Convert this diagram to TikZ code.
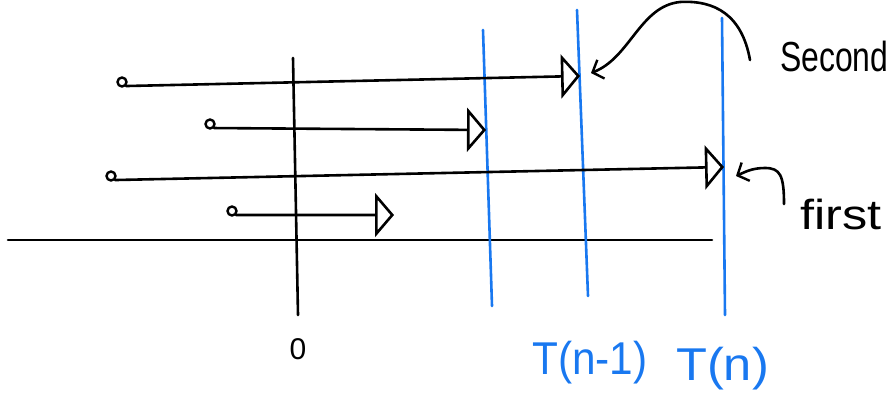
\documentclass[tikz,border=0pt]{standalone}
\usepackage{fontspec}
\setmainfont{Liberation Sans}
\usetikzlibrary{arrows.meta}
\definecolor{penblue}{RGB}{25,120,240}
\tikzset{
  pen/.style={line width=2.6pt, line cap=round, line join=round, black},
  bluepen/.style={line width=2.6pt, line cap=round, penblue},
  ray/.style={pen, -{Triangle[open, length=19pt, width=44pt, line width=2.6pt]}},
  start/.style={circle, draw, line width=2.4pt, inner sep=0pt, minimum size=9pt},
  note/.style={font=\fontsize{42}{42}\selectfont, inner sep=0pt},
  bluelabel/.style={font=\fontsize{46}{46}\selectfont, text=penblue, inner sep=0pt},
  pointer/.style={pen, -{Straight Barb[length=9pt, width=20pt, line width=2.4pt]}}
}
\begin{document}
\begin{tikzpicture}[x=1pt, y=-1pt]
\useasboundingbox (0,0) rectangle (891,396);
% axes
\coordinate (hxL) at (8,240);
\coordinate (hxR) at (712,240);
\coordinate (vxT) at (293,58);
\coordinate (vxB) at (298,315);
\draw[pen] (hxL) -- (hxR);
\draw[pen] (vxT) -- (vxB);
% blue deadlines
\coordinate (b1t) at (483,30);  \coordinate (b1b) at (492,306);
\coordinate (b2t) at (577,10);  \coordinate (b2b) at (588,296);
\coordinate (b3t) at (722,18);  \coordinate (b3b) at (725,315);
\draw[bluepen] (b1t) -- (b1b);
\draw[bluepen] (b2t) -- (b2b);
\draw[bluepen] (b3t) -- (b3b);
% rays
\node[start] (s1) at (122,82) {};
\node[start] (s2) at (210,124) {};
\node[start] (s3) at (111,176) {};
\node[start] (s4) at (232,211) {};
\coordinate (e1) at (580,76);
\coordinate (e2) at (486,130);
\coordinate (e3) at (724,167);
\coordinate (e4) at (394,215);
\draw[ray] (s1.south east) -- (e1);
\draw[ray] (s2.south east) -- (e2);
\draw[ray] (s3.south east) -- (e3);
\draw[ray] (s4.south east) -- (e4);
% labels
\node[note, anchor=base west, xscale=0.76] (second) at (780,71) {Second};
\node[note, anchor=base west, xscale=1.2] (first) at (800,229) {first};
\node[font=\fontsize{30}{30}\selectfont, inner sep=0pt] (zero) at (298,349) {0};
\node[bluelabel, anchor=base west, xscale=0.92] (tn1) at (532,374) {T(n-1)};
\node[bluelabel, anchor=base west, xscale=1.1] (tn) at (676,380) {T(n)};
% pointers
\coordinate (secA) at (750,60);
\coordinate (secB) at (591,73);
\draw[pointer] (secA) .. controls (742,15) and (715,0) .. (680,2)
  .. controls (640,6) and (630,58) .. (secB);
\coordinate (fA) at (784,204);
\coordinate (fB) at (736,176);
\draw[pointer] (fA) .. controls (784,175) and (780,168) .. (765,168)
  .. controls (752,168) and (745,172) .. (fB);
\end{tikzpicture}
\end{document}
